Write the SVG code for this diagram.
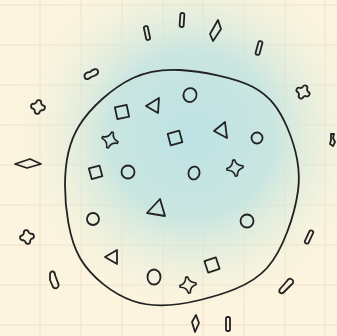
<svg xmlns="http://www.w3.org/2000/svg" width="337" height="336" viewBox="0 0 337 336">
<defs>
<radialGradient id="wash" cx="192" cy="135" r="185" gradientUnits="userSpaceOnUse">
<stop offset="0" stop-color="#bde2e4"/>
<stop offset="0.45" stop-color="#c4e4e1" stop-opacity="0.9"/>
<stop offset="0.75" stop-color="#e0edda" stop-opacity="0.4"/>
<stop offset="1" stop-color="#fcf4df" stop-opacity="0"/>
</radialGradient>
<path id="star" d="M-1,-9 L1,-9 Q2,-2 9,-1 L9,1 Q2,2 1,9 L-1,9 Q-2,2 -9,1 L-9,-1 Q-2,-2 -1,-9Z"/>
<path id="clover" d="M-2.5,-4 Q-2.5,-7 0,-7 Q2.5,-7 2.5,-4 L4,-2.5 Q7,-2.5 7,0 Q7,2.5 4,2.5 L2.5,4 Q2.5,7 0,7 Q-2.5,7 -2.5,4 L-4,2.5 Q-7,2.5 -7,0 Q-7,-2.5 -4,-2.5 Z"/>
<rect id="bar" x="-2" y="-7" width="4" height="14" rx="1.5"/>
</defs>
<style>
.ink{fill:none;stroke:#222;stroke-width:1.8;stroke-linejoin:round;stroke-linecap:round}
.grid{stroke:#efe0c8;stroke-width:1}
</style>
<rect width="337" height="336" fill="#fcf4df"/>
<g id="grid" class="grid">
<line x1="40" y1="0" x2="40" y2="336"/><line x1="81" y1="0" x2="81" y2="336"/><line x1="122" y1="0" x2="122" y2="336"/><line x1="163" y1="0" x2="163" y2="336"/><line x1="203" y1="0" x2="203" y2="336"/><line x1="244" y1="0" x2="244" y2="336"/><line x1="285" y1="0" x2="285" y2="336"/><line x1="325" y1="0" x2="325" y2="336"/>
<line x1="0" y1="5" x2="337" y2="5"/><line x1="0" y1="45" x2="337" y2="45"/><line x1="0" y1="85" x2="337" y2="85"/><line x1="0" y1="125" x2="337" y2="125"/><line x1="0" y1="165" x2="337" y2="165"/><line x1="0" y1="205" x2="337" y2="205"/><line x1="0" y1="245" x2="337" y2="245"/><line x1="0" y1="285" x2="337" y2="285"/><line x1="0" y1="325" x2="337" y2="325"/>
</g>
<rect id="wash-area" width="337" height="336" fill="url(#wash)"/>
<g id="cell" class="ink">
<path d="M180,70 C200,71 235.2,77.5 253,87 C270.8,96.5 279.5,109.7 287,127 C294.5,144.3 301.3,167.5 298,191 C294.7,214.5 283.3,249.8 267,268 C250.7,286.2 222.3,294.5 200,300 C177.7,305.5 153,308 133,301 C113,294 91.3,277.3 80,258 C68.7,238.7 65,206.8 65,185 C65,160 69,142 79,126 C90,108 112,88 133,78 C148,71 162,69 180,70Z"/>
</g>
<g id="inside" class="ink">
<rect x="116" y="106" width="12" height="12" transform="rotate(-12 122 112)"/>
<path d="M146,106 L159,98 L158,113 Z"/>
<ellipse cx="190" cy="95" rx="6.5" ry="7" transform="rotate(20 190 95)"/>
<use href="#star" transform="translate(110,140) rotate(18) scale(0.9)"/>
<rect x="169" y="132" width="12" height="12" transform="rotate(-15 175 138)"/>
<path d="M214,131 L225,122 L227,138 Z"/>
<circle cx="257" cy="138" r="5.5"/>
<rect x="90" y="167" width="11" height="11" transform="rotate(-15 95 172)"/>
<circle cx="128" cy="172" r="6.5"/>
<ellipse cx="194" cy="173" rx="5.5" ry="6.5" transform="rotate(15 194 173)"/>
<use href="#star" transform="translate(235,168) rotate(-10) scale(0.9)"/>
<path d="M147,213 L160,199 L165,216 Z"/>
<circle cx="93" cy="219" r="6"/>
<circle cx="247" cy="221" r="6.5"/>
<path d="M105,257 L117,250 L117,264 Z"/>
<ellipse cx="154" cy="277" rx="6.5" ry="7.5"/>
<rect x="206" y="259" width="12" height="12" transform="rotate(-18 212 265)"/>
<use href="#star" transform="translate(188,285) rotate(-10) scale(0.9)"/>
</g>
<g id="outside" class="ink">
<use href="#bar" transform="translate(147,33) rotate(-12)"/>
<use href="#bar" transform="translate(182,20) rotate(4)"/>
<path d="M218,20 L221,29 L213,41 L210,34 Z"/>
<use href="#bar" transform="translate(259,48) rotate(15)"/>
<path d="M85,78 C83,74 87,72 90,72 C93,69 97,68 98,71 C99,74 95,76 91,77 C89,79 86,80 85,78Z"/>
<use href="#clover" transform="translate(38,107) rotate(10)"/>
<use href="#clover" transform="translate(303,92) rotate(25)"/>
<path d="M331,134 L334,134 L333,138 L335,142 L333,146 L330,144 L331,140 Z"/>
<path d="M15,164 L30,159 L41,164 L27,168 Z"/>
<use href="#clover" transform="translate(27,237) rotate(-10)"/>
<path d="M50,274 C51,270 55,271 55,275 L58,283 C60,287 56,290 53,287 L50,280 Z"/>
<path d="M196,315 L199,323 L195,332 L192,322 Z"/>
<use href="#bar" transform="translate(228,324)"/>
<use href="#bar" transform="translate(309,237) rotate(25)"/>
<path d="M291,279 C294,280 294,283 291,285 L284,292 C281,295 278,292 280,289 L287,281 C288,279 290,278 291,279Z"/>
</g>
</svg>
